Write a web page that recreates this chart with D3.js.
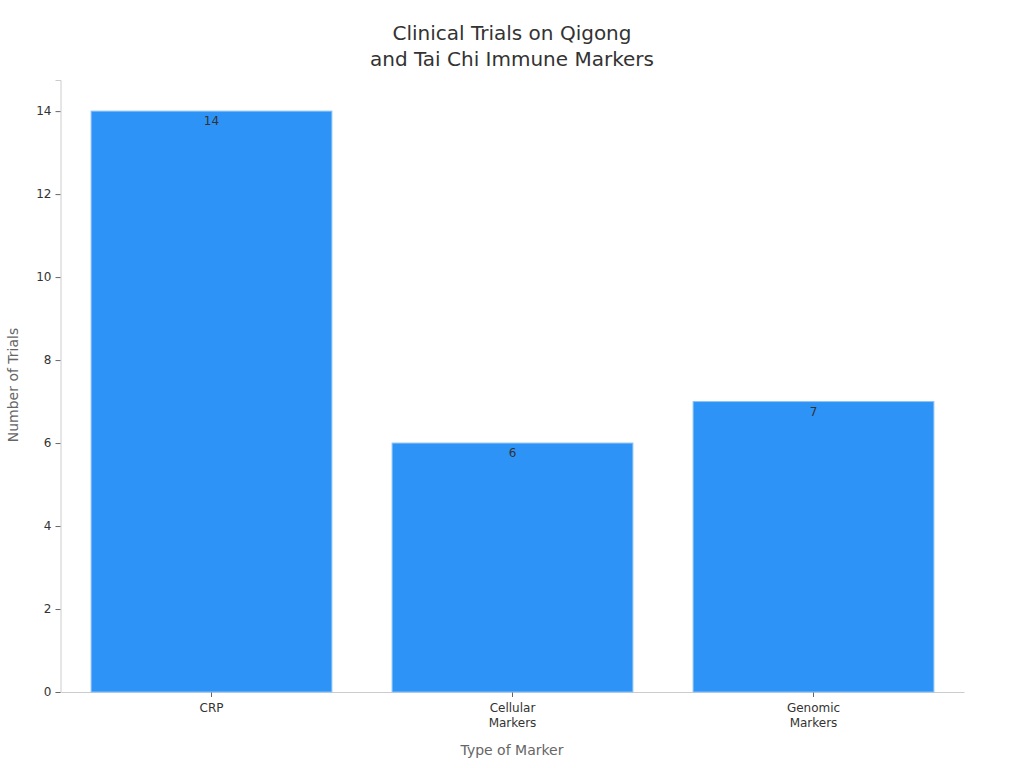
<!DOCTYPE html>
<html><head><meta charset="utf-8">
<script src="https://cdn.jsdelivr.net/npm/d3@7"></script>
<style>body{margin:0;background:#fff;font-family:"DejaVu Sans",sans-serif;}</style>
</head><body><svg id="c" width="1024" height="768"></svg>
<script>
const categories = [["CRP"], ["Cellular", "Markers"], ["Genomic", "Markers"]];
const values = [14, 6, 7];
const yTicks = [0, 2, 4, 6, 8, 10, 12, 14];
const titleLines = ["Clinical Trials on Qigong", "and Tai Chi Immune Markers"];

const svg = d3.select("#c");
const m = {l: 61, r: 60, t: 80, b: 76};
const W = 1024, H = 768;
const keys = categories.map(c => c.join(" "));
const x = d3.scaleBand().domain(keys).range([m.l, W - m.r]).paddingInner(0.2).paddingOuter(0.1);
const y = d3.scaleLinear().domain([0, 14.75]).range([H - m.b, m.t]);

svg.append("g").selectAll("text").data(titleLines).join("text")
  .attr("x", 512).attr("y", (d, i) => 40 + i * 26)
  .attr("text-anchor", "middle").attr("font-size", 20).attr("fill", "#333").text(d => d);

const ya = svg.append("g").attr("transform", `translate(60.5,0)`)
  .call(d3.axisLeft(y).tickValues(yTicks).tickSize(5).tickPadding(4));
ya.select(".domain").attr("stroke", "#ccc");
ya.selectAll(".tick line").attr("stroke", "#666");
ya.selectAll("text").attr("font-size", 12).attr("fill", "#333").attr("font-family", "DejaVu Sans");

const xa = svg.append("g").attr("transform", `translate(0,${H - m.b})`)
  .call(d3.axisBottom(x).tickSize(5).tickSizeOuter(0).tickFormat(""));
xa.select(".domain").attr("stroke", "#ccc");
xa.selectAll(".tick line").attr("stroke", "#666");
xa.selectAll(".tick").each(function(d, i) {
  const t = d3.select(this).append("text").attr("fill", "#333").attr("font-size", 12)
    .attr("font-family", "DejaVu Sans").attr("text-anchor", "middle");
  categories[i].forEach((s, j) => t.append("tspan").attr("x", 0).attr("y", 20 + j * 15).text(s));
});

svg.append("g").selectAll("rect").data(values).join("rect")
  .attr("x", (d, i) => x(keys[i])).attr("width", x.bandwidth())
  .attr("y", d => y(d)).attr("height", d => y(0) - y(d))
  .attr("fill", "#2E93F7").attr("stroke", "#8cc3f7").attr("stroke-width", 1);

svg.append("g").selectAll("text").data(values).join("text")
  .attr("x", (d, i) => x(keys[i]) + x.bandwidth() / 2).attr("y", d => y(d) + 14)
  .attr("text-anchor", "middle").attr("font-size", 12).attr("fill", "#333").text(d => d);

svg.append("text").attr("x", 512).attr("y", 755).attr("text-anchor", "middle")
  .attr("font-size", 14).attr("fill", "#666").text("Type of Marker");
svg.append("text").attr("transform", "translate(18,385) rotate(-90)").attr("text-anchor", "middle")
  .attr("font-size", 14).attr("fill", "#666").text("Number of Trials");
</script></body></html>
